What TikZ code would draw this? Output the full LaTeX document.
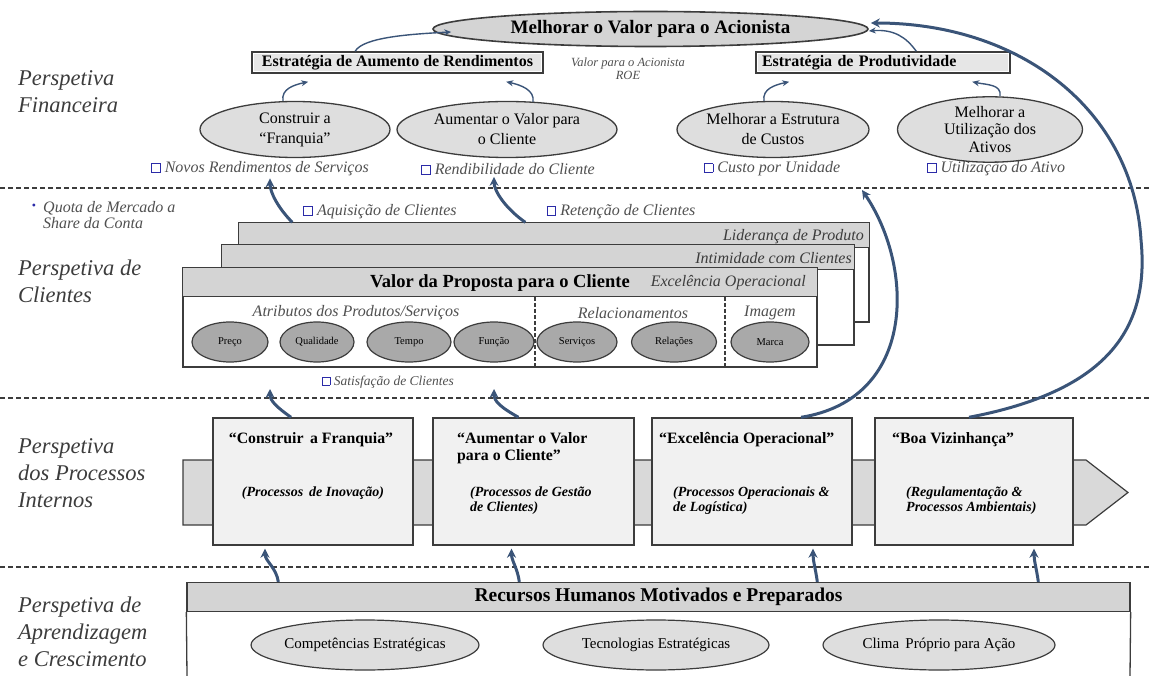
\documentclass[tikz,border=0pt]{standalone}
\usepackage{fontspec}
\setmainfont{Liberation Serif}
\usetikzlibrary{shapes.geometric,arrows.meta,calc}

\definecolor{flowblue}{HTML}{3A5478}
\definecolor{labelgray}{HTML}{3C3C3C}
\definecolor{notegray}{HTML}{505050}
\definecolor{linegray}{HTML}{3C3C3C}
\definecolor{hdrgray}{HTML}{D4D4D4}
\definecolor{ovalgray}{HTML}{DEDEDE}
\definecolor{darkoval}{HTML}{A9A9A9}
\definecolor{procfill}{HTML}{F1F1F1}
\definecolor{bandfill}{HTML}{D9D9D9}
\definecolor{stratfill}{HTML}{E6E6E6}
\definecolor{tickblue}{HTML}{2B2BA8}

\newcommand\fsz[2]{\fontsize{#1}{#2}\selectfont}
% small outlined square used as a list marker
\newcommand\tick{\textcolor{tickblue}{\raisebox{0.05em}{\fboxsep=0pt\fboxrule=0.8pt\fbox{\rule{0pt}{0.5em}\hspace{0.5em}}}}\hspace{0.25em}}

\tikzset{
  persp/.style={anchor=west, inner sep=0pt, align=left, text=labelgray,
                font=\fsz{22.5}{27}\itshape},
  topoval/.style={ellipse, draw=linegray, line width=1.6pt, fill=hdrgray,
                  minimum width=435pt, minimum height=35pt, inner sep=0pt,
                  font=\fsz{19}{22}\bfseries},
  stratbox/.style={rectangle, draw=linegray, line width=1.6pt, fill=stratfill,
                   inner sep=0pt, minimum height=21pt, font=\fsz{16}{18}\bfseries},
  stratinner/.style={draw=white, line width=0.8pt},
  finoval/.style={ellipse, draw=linegray, line width=1.3pt, fill=ovalgray,
                  minimum height=56pt, inner sep=0pt, align=center,
                  font=\fsz{16}{20}},
  note/.style={inner sep=0pt, text=notegray, font=\fsz{16}{18}\itshape},
  smalloval/.style={ellipse, draw=linegray, line width=1.2pt, fill=darkoval,
                    minimum height=40pt, inner sep=0pt, font=\fsz{10.5}{12}},
  hdr/.style={draw=linegray, line width=1.3pt, fill=hdrgray},
  panel/.style={rectangle, draw=linegray, line width=1.3pt, fill=white, inner sep=0pt},
  procbox/.style={rectangle, draw=linegray, line width=1.4pt, fill=procfill,
                  inner sep=0pt, minimum height=127pt},
  ptitle/.style={inner sep=0pt, align=left, font=\fsz{15.8}{17}\bfseries},
  psub/.style={inner sep=0pt, align=left, font=\fsz{14}{15}\bfseries\itshape},
  learnoval/.style={ellipse, draw=linegray, line width=1.2pt, fill=ovalgray,
                    minimum height=50pt, inner sep=0pt, font=\fsz{15}{16}},
  sep/.style={draw=linegray, line width=1.3pt, dash pattern=on 5pt off 3pt},
  thinflow/.style={draw=flowblue, line width=1.4pt, -{Stealth[length=7pt,width=6pt]}},
  thickflow/.style={draw=flowblue, line width=3pt, -{Stealth[length=9pt,width=9pt]}},
}

\begin{document}
\begin{tikzpicture}[x=1pt,y=-1pt]
\useasboundingbox (0,0) rectangle (1151,676);

% perspective separators
\draw[sep] (0,188) -- (1151,188);
\draw[sep] (0,398) -- (1151,398);
\draw[sep] (0,567) -- (1151,567);

% perspective titles
\node[persp] (lf) at (18,91.5) {Perspetiva\\Financeira};
\node[persp] (lc) at (18,281.5) {Perspetiva de\\Clientes};
\node[persp] (lp) at (18,473) {Perspetiva\\dos Processos\\Internos};
\node[persp] (ll) at (18,632) {Perspetiva de\\Aprendizagem\\e Crescimento};

% ---------------- financial perspective ----------------
\node[topoval] (top) at (650.5,29) {Melhorar o Valor para o Acionista};
\node[stratbox, minimum width=291pt] (s1) at (397.5,62.5) {Estratégia de Aumento de Rendimentos};
\draw[stratinner] ($(s1.south west)+(2.2,-2.2)$) rectangle ($(s1.north east)+(-2.2,2.2)$);
\node[stratbox, minimum width=254pt, text width=242pt, align=left, inner xsep=6pt] (s2) at (883,62.5) {Estratégia de Produtividade};
\draw[stratinner] ($(s2.south west)+(2.2,-2.2)$) rectangle ($(s2.north east)+(-2.2,2.2)$);
\node[note, align=center, font=\fsz{12.5}{13}\itshape] (roe) at (628,68.5) {Valor para o Acionista\\ROE};

\node[finoval, minimum width=190pt] (f1) at (295,129.5) {Construir a\\“Franquia”};
\node[finoval, minimum width=220pt] (f2) at (507,129.5) {Aumentar o Valor para\\o Cliente};
\node[finoval, minimum width=192pt] (f3) at (773,129.5) {Melhorar a Estrutura\\de Custos};
\node[finoval, minimum width=185pt, font=\fsz{16}{17.5}] (f4) at (990,129.5) {Melhorar a\\Utilização dos\\Ativos};

\node[note] (b1) at (260,169) {\tick Novos Rendimentos de Serviços};
\node[note] (b2) at (508,169) {\tick Rendibilidade do Cliente};
\node[note] (b3) at (772,169) {\tick Custo por Unidade};
\node[note] (b4) at (996,169) {\tick Utilização do Ativo};

\draw[thinflow] ($(f1.north)+(-12,0)$) .. controls +(-2,-12) and +(-14,3) .. ($(s1.south west)+(57,8)$);
\draw[thinflow] ($(f2.north)+(26,1)$) .. controls +(2,-12) and +(14,3) .. ($(s1.south west)+(255,8)$);
\draw[thinflow] ($(f3.north)+(-9,0)$) .. controls +(-2,-12) and +(-14,3) .. ($(s2.south west)+(34,8)$);
\draw[thinflow] ($(f4.north)+(10,0)$) .. controls +(2,-12) and +(14,3) .. ($(s2.south west)+(217,8)$);
\draw[thinflow] ($(s1.north west)+(104,0)$) .. controls +(8,-14) and +(-40,2) .. ($(top.west)+(19,3)$);
\draw[thinflow] ($(s2.north west)+(161,0)$) .. controls +(-10,-14) and +(25,-2) .. ($(top.east)+(0,2)$);

% ---------------- customer perspective ----------------
\node[note, text=tickblue, font=\fsz{12}{12}] (qb) at (34,207) {•};
\node[note, anchor=west, align=left, font=\fsz{16}{16}\itshape] (quota) at (43,215) {Quota de Mercado a\\Share da Conta};
\node[note] (acq) at (380,212) {\tick Aquisição de Clientes};
\node[note] (ret) at (621,212) {\tick Retenção de Clientes};

% stacked value-proposition panels (back to front)
\node[panel, minimum width=630pt, minimum height=99pt] (cb) at (554,272.5) {};
\draw[hdr] (cb.north west) rectangle ($(cb.north east)+(0,25)$);
\node[note, anchor=east, text=labelgray, font=\fsz{16}{18}\itshape] (lid) at (864,237) {Liderança de Produto};

\node[panel, minimum width=632pt, minimum height=100pt] (cm) at (538,295) {};
\draw[hdr] (cm.north west) rectangle ($(cm.north east)+(0,25)$);
\node[note, anchor=east, text=labelgray, font=\fsz{16}{18}\itshape] (inti) at (852,258) {Intimidade com Clientes};

\node[panel, minimum width=634pt, minimum height=99pt] (cf) at (500,317.5) {};
\draw[hdr] (cf.north west) rectangle ($(cf.north east)+(0,29)$);
\node[inner sep=0pt, font=\fsz{18.5}{20}\bfseries] (vp) at (500,283) {Valor da Proposta para o Cliente};
\node[note, anchor=east, text=labelgray, font=\fsz{16}{18}\itshape] (exo) at (806,283) {Excelência Operacional};

\draw[linegray, line width=1.3pt, dash pattern=on 4pt off 2pt] (535,297) -- (535,367);
\draw[linegray, line width=1.3pt, dash pattern=on 4pt off 2pt] (725,297) -- (725,367);

\node[note, font=\fsz{16}{18}\itshape] (attr) at (356,313) {Atributos dos Produtos/Serviços};
\node[note, font=\fsz{16}{18}\itshape] (rel) at (633,313) {Relacionamentos};
\node[note, font=\fsz{16}{18}\itshape] (img) at (770,313) {Imagem};

\node[smalloval, minimum width=76pt] (o1) at (230,342) {Preço};
\node[smalloval, minimum width=74pt] (o2) at (317,342) {Qualidade};
\node[smalloval, minimum width=84pt] (o3) at (409,342) {Tempo};
\node[smalloval, minimum width=80pt] (o4) at (494,342) {Função};
\node[smalloval, minimum width=80pt] (o5) at (577,342) {Serviços};
\node[smalloval, minimum width=85pt] (o6) at (674,342) {Relações};
\node[smalloval, minimum width=78pt] (o7) at (770,342) {Marca};

\node[note, font=\fsz{13.5}{15}\itshape] (sat) at (388,382) {\tick Satisfação de Clientes};

\draw[thickflow] ($(cb.north west)+(54,0)$) .. controls +(-14,-14) and +(0,14) .. ($(b1.south)+(10,2)$);
\draw[thickflow] ($(cb.north west)+(287,0)$) .. controls +(-20,-14) and +(0,14) .. ($(b2.south)+(-14,2)$);

% ---------------- internal processes ----------------
\draw[line width=1.2pt, draw=linegray, fill=bandfill]
  (183,460) -- (1086,460) -- (1128,492.5) -- (1086,525) -- (183,525) -- cycle;

\node[procbox, minimum width=200pt] (p1) at (313,481.5) {};
\node[procbox, minimum width=201pt] (p2) at (533.5,481.5) {};
\node[procbox, minimum width=200pt] (p3) at (752,481.5) {};
\node[procbox, minimum width=198pt] (p4) at (974,481.5) {};

\node[ptitle] (t1) at (311,440) {“Construir\, a Franquia”};
\node[psub] (u1) at (313,493) {(Processos\, de Inovação)};
\node[ptitle, anchor=west] (t2) at (457,448.5) {“Aumentar o Valor\\para o Cliente”};
\node[psub, anchor=west] (u2) at (470,500.5) {(Processos de Gestão\\de Clientes)};
\node[ptitle, anchor=west] (t3) at (659,440) {“Excelência Operacional”};
\node[psub, anchor=west] (u3) at (673,500.5) {(Processos Operacionais \&\\de Logística)};
\node[ptitle, anchor=west] (t4) at (892,440) {“Boa Vizinhança”};
\node[psub, anchor=west] (u4) at (906,500.5) {(Regulamentação \&\\Processos Ambientais)};

\coordinate (h1) at (270,389);
\coordinate (h2) at (494,389);
\coordinate (ctop) at (862,190);
\coordinate (bend) at (1141,240);

\draw[thickflow] ($(p1.north)+(-22,0)$) .. controls +(-14,-10) and +(0,12) .. (h1);
\draw[thickflow] ($(p2.north)+(-15,0)$) .. controls +(-18,-10) and +(0,12) .. (h2);
\draw[thickflow] ($(p3.north)+(49,0)$) .. controls +(115,-18) and +(53,78) .. (ctop);
\draw[thickflow] ($(p4.north)+(-5,0)$) .. controls +(137,-26) and +(9,90) .. (bend)
  .. controls +(-8,-130) and +(150,0) .. ($(top.east)+(2,-6)$);

% ---------------- learning and growth ----------------
\node[rectangle, draw=linegray, line width=1.3pt, fill=hdrgray, minimum width=943pt,
      minimum height=29pt, inner sep=0pt, font=\fsz{19.5}{20}\bfseries] (lb) at (658.5,597)
      {Recursos Humanos Motivados e Preparados};
\draw[linegray, line width=1.3pt] (lb.south west) -- (187,676);
\draw[linegray, line width=1.3pt] (lb.south east) -- (1130,676);

\node[learnoval, minimum width=224pt] (e1) at (365,645) {Competências Estratégicas};
\node[learnoval, minimum width=226pt] (e2) at (656,645) {Tecnologias Estratégicas};
\node[learnoval, minimum width=232pt] (e3) at (939,645) {Clima\, Próprio para Ação};

\draw[thickflow] ($(lb.north west)+(92,0)$) .. controls +(-2,-14) and +(0,12) .. ($(p1.south)+(-48,3)$);
\draw[thickflow] ($(lb.north west)+(333,0)$) .. controls +(-2,-14) and +(0,12) .. ($(p2.south)+(-22,3)$);
\draw[thickflow] ($(lb.north west)+(631,0)$) .. controls +(-2,-14) and +(0,12) .. ($(p3.south)+(61,3)$);
\draw[thickflow] ($(lb.north west)+(852,0)$) .. controls +(-2,-14) and +(0,12) .. ($(p4.south)+(60,3)$);
\end{tikzpicture}
\end{document}
